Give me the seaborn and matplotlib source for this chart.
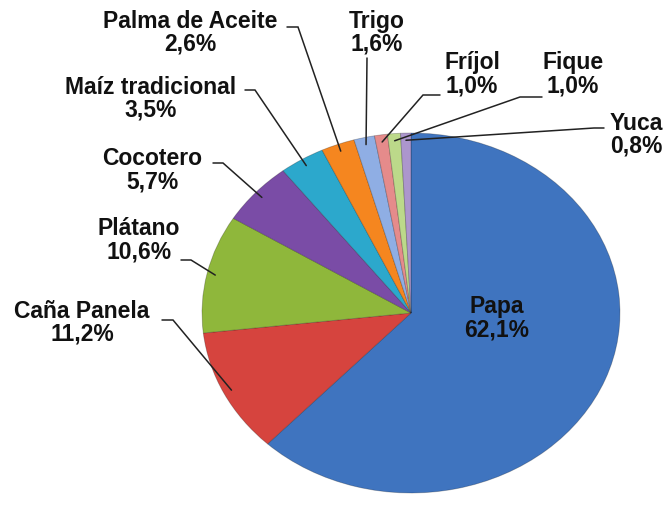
import numpy as np
import matplotlib
matplotlib.use("Agg")
import matplotlib.pyplot as plt
import seaborn as sns

# ---- data ----
categories = ["Papa", "Caña Panela", "Plátano", "Cocotero", "Maíz tradicional",
              "Palma de Aceite", "Trigo", "Fríjol", "Fique", "Yuca"]
values = [62.1, 11.2, 10.6, 5.7, 3.5, 2.6, 1.6, 1.0, 1.0, 0.8]
colors = ["#3F74BF", "#D6443E", "#8FB73B", "#7A4CA6", "#2CA8CC",
          "#F5861F", "#8FAEE4", "#E58B8B", "#BCD98A", "#AC96CD"]

# label layout (image pixel coords): text centre, dash start/end
label_pos = {
    "Papa": (497, 318),
    "Caña Panela": (82, 323),
    "Plátano": (139, 240),
    "Cocotero": (152, 170),
    "Maíz tradicional": (151, 99),
    "Palma de Aceite": (190, 33),
    "Trigo": (377, 33),
    "Fríjol": (472, 74),
    "Fique": (573, 74),
    "Yuca": (636, 135),
}
dash = {
    "Caña Panela": ((162, 320), (173, 320)),
    "Plátano": ((181, 260), (191, 260)),
    "Cocotero": ((213, 163), (223, 163)),
    "Maíz tradicional": ((245, 90), (255, 90)),
    "Palma de Aceite": ((287, 27), (298, 27)),
    "Trigo": ((367, 58), (367, 58)),
    "Fríjol": ((440, 95), (423, 95)),
    "Fique": ((542, 97), (520, 97)),
    "Yuca": ((604, 128), (594, 128)),
}

sns.set_theme(style="white")
plt.rcParams['font.family'] = ['Liberation Sans', 'DejaVu Sans']

W, H = 668, 508
fig = plt.figure(figsize=(W / 100, H / 100), dpi=100)
fig.patch.set_facecolor("white")

# pie axes covering the (elliptical) pie bounding box
left, right, top, bottom = 202, 620, 133, 493
ax = fig.add_axes([left / W, (H - bottom) / H, (right - left) / W, (bottom - top) / H])
pal = sns.color_palette(colors)
wedges, _ = ax.pie(values, colors=pal, startangle=90, counterclock=False, radius=1,
                   wedgeprops=dict(edgecolor=(0, 0, 0, 0.25), linewidth=0.6))
ax.set_aspect("auto")
ax.set_xlim(-1, 1)
ax.set_ylim(-1, 1)
ax.axis("off")

# overlay in image pixel coords
ov = fig.add_axes([0, 0, 1, 1], facecolor="none")
ov.set_xlim(0, W)
ov.set_ylim(H, 0)
ov.axis("off")

def to_img(pt):
    d = ax.transData.transform(pt)
    return d[0], H - d[1]

for cat, val, w in zip(categories, values, wedges):
    txt = f"{cat}\n{val:.1f}%".replace(".", ",")
    x, y = label_pos[cat]
    ov.text(x, y, txt, ha="center", va="center", fontsize=16.5, fontweight="bold",
            color="#111111", linespacing=1.0)
    if cat in dash:
        ang = np.deg2rad((w.theta1 + w.theta2) / 2)
        r = 0.96
        ex, ey = to_img((r * np.cos(ang), r * np.sin(ang)))
        (x0, y0), (x1, y1) = dash[cat]
        ov.plot([x0, x1, ex], [y0, y1, ey], color="#222222", lw=1.1,
                solid_joinstyle="miter")

fig.savefig("out.png", dpi=100)
